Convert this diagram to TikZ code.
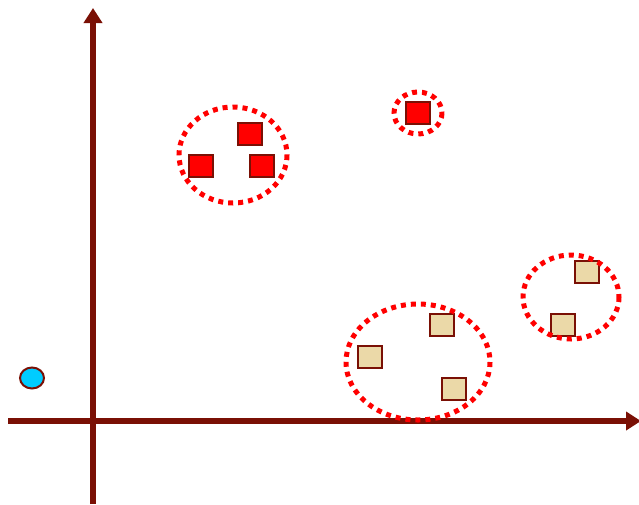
\documentclass[tikz,border=0pt]{standalone}
\usetikzlibrary{arrows.meta,shapes.geometric}
\definecolor{axis}{HTML}{7A1005}
\definecolor{tan}{HTML}{EBD9A8}
\definecolor{sky}{HTML}{00CCFF}
\begin{document}
\begin{tikzpicture}[x=1pt,y=-1pt,
  axisline/.style={draw=axis,line width=5.5pt,-{Triangle[length=15pt,width=18pt]}},
  redsq/.style={draw=axis,fill=red,line width=2.2pt,minimum width=24pt,minimum height=22pt,inner sep=0pt},
  tansq/.style={draw=axis,fill=tan,line width=2.2pt,minimum width=24pt,minimum height=22pt,inner sep=0pt},
  cluster/.style={draw=red,line width=5pt,dash pattern=on 5pt off 5pt}]
\useasboundingbox (0,0) rectangle (639,504);
\coordinate (vb) at (93,504);
\coordinate (vt) at (93,8);
\coordinate (hl) at (8,421);
\coordinate (hr) at (641,421);
\draw[axisline] (vb) -- (vt);
\draw[axisline] (hl) -- (hr);
\node[redsq] (r1) at (250,134) {};
\node[redsq] (r2) at (201,166) {};
\node[redsq] (r3) at (262,166) {};
\node[redsq] (r4) at (418,113) {};
\node[tansq] (t1) at (442,325) {};
\node[tansq] (t2) at (370,357) {};
\node[tansq] (t3) at (454,389) {};
\node[tansq] (t4) at (587,272) {};
\node[tansq] (t5) at (563,325) {};
\draw[cluster] (233,155) ellipse [x radius=54,y radius=48];
\draw[cluster] (418,113) ellipse [x radius=24,y radius=21];
\draw[cluster] (418,362) ellipse [x radius=72,y radius=58];
\draw[cluster] (571,297) ellipse [x radius=48,y radius=42];
\node[draw=axis,fill=sky,line width=2pt,ellipse,minimum width=24pt,minimum height=21pt,inner sep=0pt] (c) at (32,378) {};
\end{tikzpicture}
\end{document}
